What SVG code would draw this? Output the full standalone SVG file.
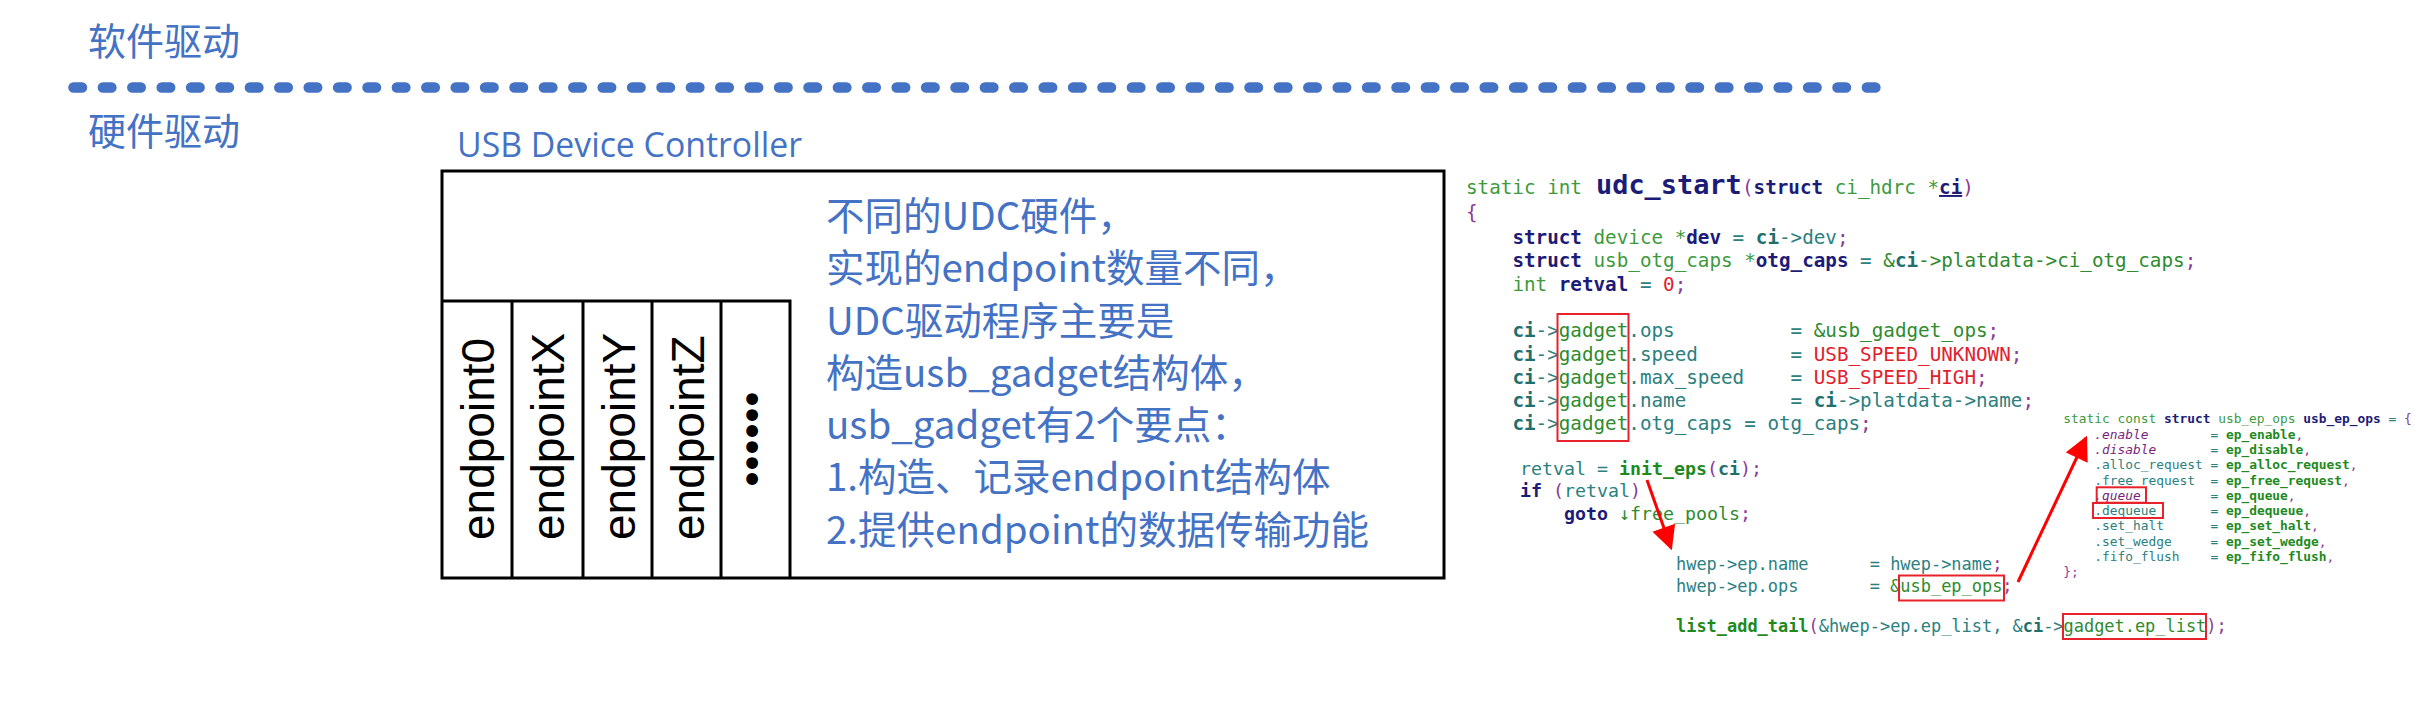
<svg xmlns="http://www.w3.org/2000/svg" width="2414" height="701" viewBox="0 0 2414 701">
<style>
.cjk{font-family:"Noto Sans CJK SC","Noto Sans",sans-serif;fill:#4472C4}
.ep{font-family:"Liberation Sans",Arial,sans-serif;font-size:46px;fill:#000}
.box{fill:#fff;stroke:#000;stroke-width:3}
.ln{stroke:#000;stroke-width:3;fill:none}
.code{font-family:"DejaVu Sans Mono","Liberation Mono",monospace}
.kw{fill:#3d9a3d}
.st{fill:#1c1c78;font-weight:bold}
.ty{fill:#3d9a3d}
.ci{fill:#1f6f6f;font-weight:bold}
.mb{fill:#2b8080}
.gd{fill:#2e8b2e}
.fn{fill:#1e8a1e;font-weight:bold}
.mc{fill:#e2202c}
.pu{fill:#8a3a9a}
.it{fill:#7a1f80;font-style:italic}
.rb{fill:none;stroke:#e8222a;stroke-width:2}
.arr{stroke:#ff0000;stroke-width:3;fill:none}
</style>
<defs>
<marker id="ah" viewBox="0 0 10 10" refX="9" refY="5" markerWidth="8.5" markerHeight="8" markerUnits="strokeWidth" orient="auto">
<path d="M0,0 L10,5 L0,10 z" fill="#ff0000"/>
</marker>
</defs>
<rect width="2414" height="701" fill="#fff"/>

<g id="layer-labels">
<text class="cjk" x="88" y="55" font-size="38">软件驱动</text>
<line x1="73.5" y1="87.5" x2="1876" y2="87.5" stroke="#4472C4" stroke-width="10.5" stroke-linecap="round" stroke-dasharray="8.5 20.9"/>
<text class="cjk" x="88" y="145" font-size="38">硬件驱动</text>
</g>

<g id="udc">
<text x="457" y="157" font-family="Open Sans,Liberation Sans,sans-serif" font-size="34" fill="#4472C4" textLength="345" lengthAdjust="spacingAndGlyphs">USB Device Controller</text>
<rect class="box" x="442" y="171" width="1002" height="407"/>
<text class="cjk" font-size="38.5">
<tspan x="826" y="230">不同的UDC硬件，</tspan>
<tspan x="826" y="282.3">实现的endpoint数量不同，</tspan>
<tspan x="826" y="334.5">UDC驱动程序主要是</tspan>
<tspan x="826" y="386.8">构造usb_gadget结构体，</tspan>
<tspan x="826" y="439">usb_gadget有2个要点：</tspan>
<tspan x="826" y="491.3">1.构造、记录endpoint结构体</tspan>
<tspan x="826" y="543.5">2.提供endpoint的数据传输功能</tspan>
</text>
</g>

<g id="endpoints">
<path class="ln" d="M442,301 H790 V578 M512,301 V578 M583,301 V578 M652,301 V578 M721,301 V578"/>
<text class="ep" transform="translate(494,540) rotate(-90)">endpoint0</text>
<text class="ep" transform="translate(564,540) rotate(-90)">endpointX</text>
<text class="ep" transform="translate(635,540) rotate(-90)">endpointY</text>
<text class="ep" transform="translate(704,540) rotate(-90)">endpointZ</text>
<text transform="translate(770,439) rotate(-90)" text-anchor="middle" font-family="Noto Sans CJK SC,sans-serif" font-size="48" font-weight="bold" fill="#000" stroke="#000" stroke-width="4" stroke-linejoin="miter">……</text>
</g>

<g id="code-udc-start" class="code">
<text x="1466" y="194" font-size="19.25" class="kw">static int</text>
<text x="1596" y="194" font-size="26.9" class="st">udc_start</text>
<text x="1742" y="194" font-size="19.25"><tspan class="pu">(</tspan><tspan class="st">struct</tspan><tspan class="ty">&#160;ci_hdrc&#160;*</tspan><tspan class="st" text-decoration="underline">ci</tspan><tspan class="pu">)</tspan></text>
<text x="1466" y="219" font-size="19.25" class="pu">{</text>
<text x="1512.4" y="244" font-size="19.25"><tspan class="st">struct</tspan><tspan class="ty">&#160;device&#160;*</tspan><tspan class="st">dev</tspan><tspan class="mb">&#160;=&#160;</tspan><tspan class="ci">ci</tspan><tspan class="mb">-&gt;dev</tspan><tspan class="pu">;</tspan></text>
<text x="1512.4" y="267.3" font-size="19.25"><tspan class="st">struct</tspan><tspan class="ty">&#160;usb_otg_caps&#160;*</tspan><tspan class="st">otg_caps</tspan><tspan class="mb">&#160;=&#160;</tspan><tspan class="gd">&amp;</tspan><tspan class="ci">ci</tspan><tspan class="gd">-&gt;platdata-&gt;ci_otg_caps</tspan><tspan class="pu">;</tspan></text>
<text x="1512.4" y="290.6" font-size="19.25"><tspan class="kw">int&#160;</tspan><tspan class="st">retval</tspan><tspan class="mb">&#160;=&#160;</tspan><tspan class="mc">0</tspan><tspan class="pu">;</tspan></text>
<text x="1512.4" y="337.2" font-size="19.25"><tspan class="ci">ci</tspan><tspan class="mb">-&gt;</tspan><tspan class="gd">gadget</tspan><tspan class="mb">.ops&#160;&#160;&#160;&#160;&#160;&#160;&#160;&#160;&#160;&#160;=&#160;</tspan><tspan class="gd">&amp;usb_gadget_ops</tspan><tspan class="pu">;</tspan></text>
<text x="1512.4" y="360.5" font-size="19.25"><tspan class="ci">ci</tspan><tspan class="mb">-&gt;</tspan><tspan class="gd">gadget</tspan><tspan class="mb">.speed&#160;&#160;&#160;&#160;&#160;&#160;&#160;&#160;=&#160;</tspan><tspan class="mc">USB_SPEED_UNKNOWN</tspan><tspan class="pu">;</tspan></text>
<text x="1512.4" y="383.8" font-size="19.25"><tspan class="ci">ci</tspan><tspan class="mb">-&gt;</tspan><tspan class="gd">gadget</tspan><tspan class="mb">.max_speed&#160;&#160;&#160;&#160;=&#160;</tspan><tspan class="mc">USB_SPEED_HIGH</tspan><tspan class="pu">;</tspan></text>
<text x="1512.4" y="407.1" font-size="19.25"><tspan class="ci">ci</tspan><tspan class="mb">-&gt;</tspan><tspan class="gd">gadget</tspan><tspan class="mb">.name&#160;&#160;&#160;&#160;&#160;&#160;&#160;&#160;&#160;=&#160;</tspan><tspan class="ci">ci</tspan><tspan class="mb">-&gt;platdata-&gt;name</tspan><tspan class="pu">;</tspan></text>
<text x="1512.4" y="430.4" font-size="19.25"><tspan class="ci">ci</tspan><tspan class="mb">-&gt;</tspan><tspan class="gd">gadget</tspan><tspan class="mb">.otg_caps&#160;=&#160;otg_caps</tspan><tspan class="pu">;</tspan></text>
<rect class="rb" x="1557.5" y="314" width="71" height="127"/>
</g>

<g id="code-init-eps" class="code" font-size="18.27">
<text x="1520" y="475"><tspan class="mb">retval&#160;=&#160;</tspan><tspan class="fn">init_eps</tspan><tspan class="pu">(</tspan><tspan class="ci">ci</tspan><tspan class="pu">);</tspan></text>
<text x="1520" y="497"><tspan class="st">if</tspan><tspan>&#160;</tspan><tspan class="pu">(</tspan><tspan class="mb">retval</tspan><tspan class="pu">)</tspan></text>
<text x="1564" y="520"><tspan class="st">goto</tspan><tspan>&#160;</tspan><tspan class="gd">↓free_pools</tspan><tspan class="pu">;</tspan></text>
</g>

<g id="code-hwep" class="code" font-size="16.94">
<text x="1676" y="570"><tspan class="mb">hwep-&gt;ep.name&#160;&#160;&#160;&#160;&#160;&#160;=&#160;hwep-&gt;name</tspan><tspan class="pu">;</tspan></text>
<text x="1676" y="591.5"><tspan class="mb">hwep-&gt;ep.ops&#160;&#160;&#160;&#160;&#160;&#160;&#160;=&#160;</tspan><tspan class="gd">&amp;usb_ep_ops</tspan><tspan class="pu">;</tspan></text>
<text x="1676" y="632"><tspan class="fn">list_add_tail</tspan><tspan class="pu">(</tspan><tspan class="mb">&amp;hwep-&gt;ep.ep_list,&#160;&amp;</tspan><tspan class="ci">ci</tspan><tspan class="mb">-&gt;</tspan><tspan class="gd">gadget.ep_list</tspan><tspan class="pu">);</tspan></text>
<rect class="rb" x="1899" y="575.5" width="105" height="25"/>
<rect class="rb" x="2063" y="614" width="143" height="25"/>
</g>

<g id="code-usb-ep-ops" class="code" font-size="12.87">
<text x="2063.3" y="423.3"><tspan class="kw">static&#160;const&#160;</tspan><tspan class="st">struct</tspan><tspan class="ty">&#160;usb_ep_ops&#160;</tspan><tspan class="st">usb_ep_ops</tspan><tspan class="mb">&#160;=&#160;</tspan><tspan class="pu">{</tspan></text>
<text x="2094.3" y="438.6"><tspan class="it">.enable</tspan><tspan class="mb">&#160;&#160;&#160;&#160;&#160;&#160;&#160;&#160;=&#160;</tspan><tspan class="fn">ep_enable</tspan><tspan class="pu">,</tspan></text>
<text x="2094.3" y="453.9"><tspan class="it">.disable</tspan><tspan class="mb">&#160;&#160;&#160;&#160;&#160;&#160;&#160;=&#160;</tspan><tspan class="fn">ep_disable</tspan><tspan class="pu">,</tspan></text>
<text x="2094.3" y="469.2"><tspan class="mb">.alloc_request&#160;=&#160;</tspan><tspan class="fn">ep_alloc_request</tspan><tspan class="pu">,</tspan></text>
<text x="2094.3" y="484.5"><tspan class="mb">.free_request&#160;&#160;=&#160;</tspan><tspan class="fn">ep_free_request</tspan><tspan class="pu">,</tspan></text>
<text x="2094.3" y="499.8"><tspan class="it">.queue</tspan><tspan class="mb">&#160;&#160;&#160;&#160;&#160;&#160;&#160;&#160;&#160;=&#160;</tspan><tspan class="fn">ep_queue</tspan><tspan class="pu">,</tspan></text>
<text x="2094.3" y="515.1"><tspan class="mb">.dequeue&#160;&#160;&#160;&#160;&#160;&#160;&#160;=&#160;</tspan><tspan class="fn">ep_dequeue</tspan><tspan class="pu">,</tspan></text>
<text x="2094.3" y="530.4"><tspan class="mb">.set_halt&#160;&#160;&#160;&#160;&#160;&#160;=&#160;</tspan><tspan class="fn">ep_set_halt</tspan><tspan class="pu">,</tspan></text>
<text x="2094.3" y="545.7"><tspan class="mb">.set_wedge&#160;&#160;&#160;&#160;&#160;=&#160;</tspan><tspan class="fn">ep_set_wedge</tspan><tspan class="pu">,</tspan></text>
<text x="2094.3" y="561"><tspan class="mb">.fifo_flush&#160;&#160;&#160;&#160;=&#160;</tspan><tspan class="fn">ep_fifo_flush</tspan><tspan class="pu">,</tspan></text>
<text x="2063.3" y="576.3" class="pu">};</text>
<rect class="rb" x="2096.7" y="487.3" width="49.3" height="15.4"/>
<rect class="rb" x="2093" y="503" width="70" height="15"/>
</g>

<g id="connectors">
<line class="arr" x1="1647" y1="480" x2="1671" y2="548" marker-end="url(#ah)"/>
<line class="arr" x1="2018" y1="582" x2="2086" y2="438" marker-end="url(#ah)"/>
</g>
</svg>
